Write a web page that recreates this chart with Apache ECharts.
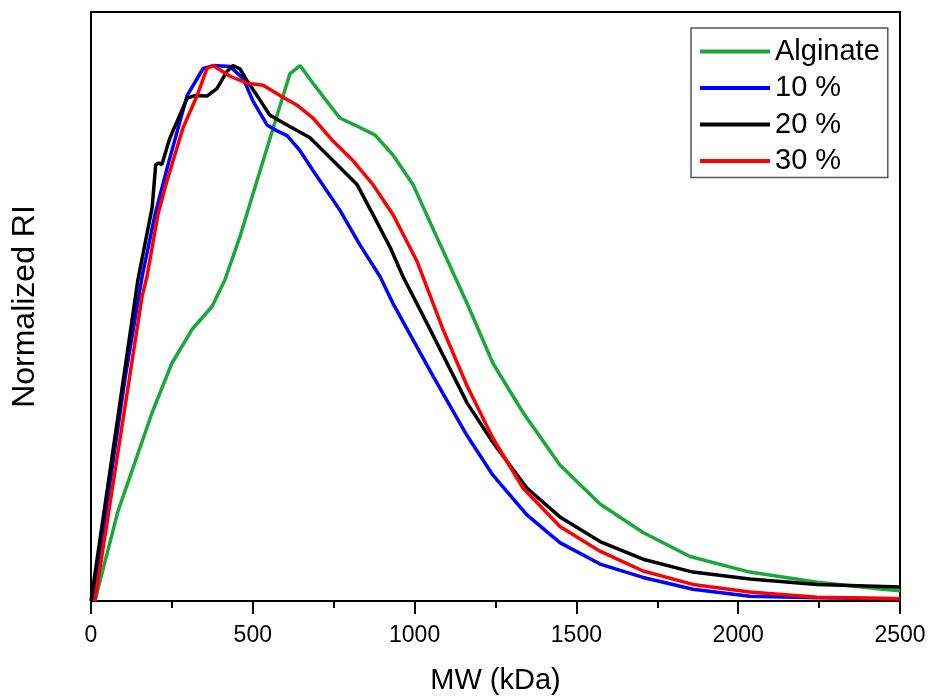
<!DOCTYPE html>
<html>
<head>
<meta charset="utf-8">
<script src="https://cdn.jsdelivr.net/npm/echarts@6/dist/echarts.min.js"></script>
<style>
  html, body { margin: 0; padding: 0; background: #fff; }
  #main { width: 930px; height: 700px; }
</style>
</head>
<body>
<div id="main"></div>
<script>
// 曲线数据 (MW kDa / 归一化 RI)
var alginate_x = [12, 83, 189, 250, 312, 374, 414, 460, 513, 575, 615, 646, 686, 729, 769, 822, 878, 933, 995, 1078, 1162, 1242, 1335, 1449, 1573, 1706, 1851, 2036, 2244, 2447, 2500];
var alginate_y = [0, 0.167, 0.352, 0.444, 0.507, 0.550, 0.600, 0.680, 0.785, 0.907, 0.985, 1.0, 0.967, 0.933, 0.902, 0.887, 0.870, 0.833, 0.778, 0.667, 0.556, 0.444, 0.352, 0.254, 0.181, 0.128, 0.083, 0.054, 0.035, 0.022, 0.019];

var p10_x = [6, 105, 158, 198, 238, 297, 346, 377, 430, 470, 501, 544, 575, 606, 646, 686, 769, 831, 893, 933, 1057, 1162, 1242, 1347, 1449, 1573, 1706, 1860, 2036, 2244, 2500];
var p10_y = [0, 0.415, 0.606, 0.722, 0.815, 0.944, 0.994, 1.0, 0.998, 0.976, 0.933, 0.889, 0.878, 0.869, 0.841, 0.804, 0.730, 0.665, 0.606, 0.556, 0.420, 0.309, 0.235, 0.161, 0.109, 0.069, 0.044, 0.022, 0.009, 0.006, 0.004];

var p20_x = [0, 145, 189, 200, 210, 219, 244, 297, 321, 358, 389, 420, 439, 460, 482, 513, 553, 606, 677, 739, 822, 871, 924, 964, 1038, 1162, 1242, 1347, 1449, 1573, 1706, 1860, 2036, 2244, 2500];
var p20_y = [0, 0.600, 0.735, 0.815, 0.818, 0.815, 0.865, 0.939, 0.944, 0.943, 0.957, 0.989, 1.0, 0.994, 0.972, 0.944, 0.907, 0.889, 0.865, 0.828, 0.778, 0.722, 0.661, 0.606, 0.519, 0.370, 0.296, 0.211, 0.157, 0.111, 0.078, 0.054, 0.041, 0.031, 0.026];

var p30_x = [12, 158, 173, 207, 235, 284, 328, 358, 377, 430, 482, 532, 584, 637, 686, 748, 810, 871, 933, 1007, 1088, 1162, 1242, 1335, 1449, 1573, 1706, 1860, 2036, 2244, 2500];
var p30_y = [0, 0.569, 0.606, 0.722, 0.785, 0.883, 0.944, 0.994, 1.0, 0.980, 0.967, 0.963, 0.944, 0.926, 0.902, 0.859, 0.822, 0.778, 0.722, 0.635, 0.507, 0.402, 0.304, 0.211, 0.139, 0.093, 0.056, 0.031, 0.017, 0.007, 0.004];

var series_names = ['Alginate', '10 %', '20 %', '30 %'];
var series_colors = ['#1aa83a', '#0000ff', '#000000', '#ff0000'];

var x_ticks = [0, 500, 1000, 1500, 2000, 2500];

function pairs(xs, ys) {
	return xs.map(function (x, i) {
		return [x, ys[i]];
	});
}

var font = 'Liberation Sans, Arial, sans-serif';

var chart = echarts.init(document.getElementById('main'));

var all_x = [alginate_x, p10_x, p20_x, p30_x];
var all_y = [alginate_y, p10_y, p20_y, p30_y];

var option = {
	animation: false,
	backgroundColor: '#fff',
	grid: {
		left: 91,
		right: 30,
		top: 12,
		bottom: 93,
		show: true,
		borderColor: '#000',
		borderWidth: 2
	},
	legend: {
		orient: 'vertical',
		left: 691,
		top: 28,
		padding: [9, 8, 2, 9],
		itemGap: 7.5,
		itemWidth: 70,
		itemHeight: 4,
		icon: 'rect',
		borderColor: '#555',
		borderWidth: 1.5,
		textStyle: {
			fontFamily: font,
			fontSize: 29,
			color: '#000'
		},
		data: series_names
	},
	xAxis: {
		type: 'value',
		min: x_ticks[0],
		max: x_ticks[x_ticks.length - 1],
		interval: 500,
		name: 'MW (kDa)',
		nameLocation: 'middle',
		nameGap: 65,
		nameTextStyle: {
			fontFamily: font,
			fontSize: 29,
			color: '#000'
		},
		axisLine: { lineStyle: { color: '#000', width: 2 } },
		axisTick: { length: 13, lineStyle: { color: '#000', width: 2 } },
		minorTick: { show: true, splitNumber: 2, length: 7, lineStyle: { color: '#000', width: 2 } },
		splitLine: { show: false },
		axisLabel: {
			margin: 23,
			fontFamily: font,
			fontSize: 23,
			color: '#000',
			formatter: function (value) {
				return String(value);
			}
		}
	},
	yAxis: {
		type: 'value',
		min: 0,
		max: 1.1,
		name: 'Normalized RI',
		nameLocation: 'middle',
		nameGap: 50,
		nameTextStyle: {
			fontFamily: font,
			fontSize: 32,
			color: '#000'
		},
		axisLine: { show: true, lineStyle: { color: '#000', width: 2 } },
		axisTick: { show: false },
		axisLabel: { show: false },
		splitLine: { show: false }
	},
	series: series_names.map(function (name, i) {
		return {
			name: name,
			type: 'line',
			showSymbol: false,
			color: series_colors[i],
			lineStyle: { width: 3.5, color: series_colors[i] },
			data: pairs(all_x[i], all_y[i])
		};
	})
};

chart.setOption(option);
</script>
</body>
</html>
